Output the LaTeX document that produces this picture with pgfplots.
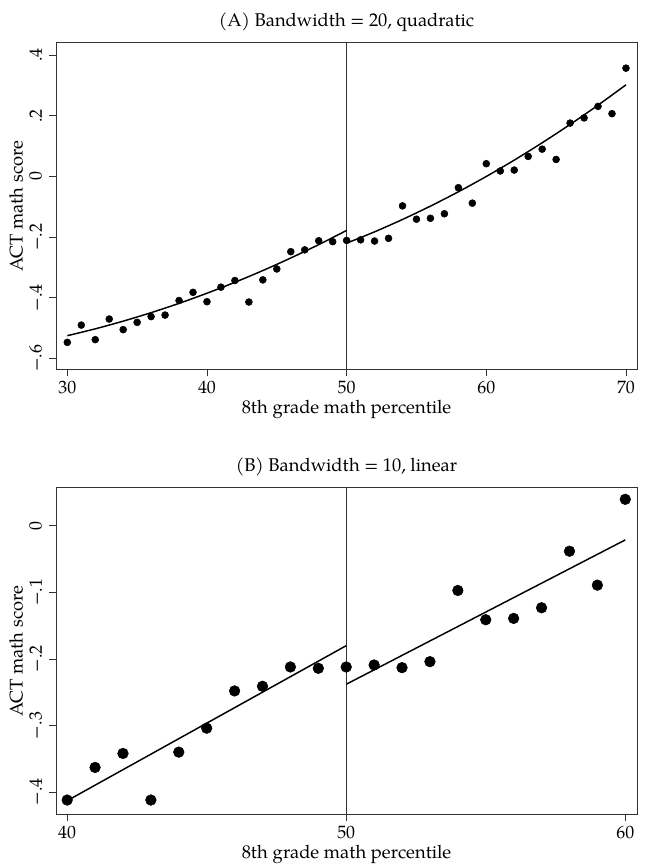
\documentclass[border=0pt]{standalone}
\usepackage{fontspec}
\setmainfont{TeX Gyre Pagella}
\usepackage{pgfplots}
\pgfplotsset{compat=1.18}
\usepackage{pgfplotstable}

\pgfplotstableread{
x y
30 -0.547
31 -0.490
32 -0.538
33 -0.470
34 -0.505
35 -0.481
36 -0.462
37 -0.457
38 -0.409
39 -0.382
40 -0.413
41 -0.365
42 -0.343
43 -0.414
44 -0.341
45 -0.305
46 -0.248
47 -0.242
48 -0.212
49 -0.215
50 -0.211
51 -0.209
52 -0.213
53 -0.204
54 -0.097
55 -0.141
56 -0.138
57 -0.123
58 -0.037
59 -0.088
60 0.042
61 0.018
62 0.021
63 0.066
64 0.090
65 0.056
66 0.176
67 0.193
68 0.231
69 0.207
70 0.357
}\dataA

\pgfplotstableread{
x y
40 -0.412
41 -0.363
42 -0.342
43 -0.412
44 -0.340
45 -0.304
46 -0.248
47 -0.241
48 -0.212
49 -0.214
50 -0.212
51 -0.209
52 -0.213
53 -0.204
54 -0.097
55 -0.141
56 -0.139
57 -0.123
58 -0.038
59 -0.089
60 0.040
}\dataB

\pgfplotsset{
  rdstyle/.style={
    scale only axis,
    width=435.75pt, height=245.25pt,
    axis line style={draw=black!80, line width=0.7pt},
    tick style={draw=black!80, line width=0.7pt},
    tick align=outside, major tick length=5pt,
    xtick pos=bottom, ytick pos=left,
    /pgf/number format/assume math mode=true,
    tick label style={font=\fontsize{13.4}{15}\selectfont},
    yticklabel style={rotate=90, anchor=south},
    yticklabel shift=2pt,
    xlabel={8th grade math percentile},
    ylabel={ACT math score},
    xlabel style={font=\fontsize{13.8}{16}\selectfont, at={(axis description cs:0.5,0)}, anchor=base, yshift=-32.5pt},
    ylabel style={font=\fontsize{13.8}{16}\selectfont, at={([xshift=-25pt]axis description cs:0,0.5)}, anchor=base},
    title style={font=\fontsize{13.8}{16}\selectfont, at={(axis description cs:0.5,1)}, anchor=base, yshift=6.2pt},
    clip=false,
  },
}

\begin{document}
\begin{tikzpicture}
\useasboundingbox (-42pt,32pt) rectangle (441.75pt,-616pt);
\begin{axis}[rdstyle,
  at={(0pt,0pt)}, anchor=north west,
  title={(A) Bandwidth = 20, quadratic},
  xmin=29.19, xmax=70.79, ymin=-0.637, ymax=0.441,
  xtick={30,40,50,60,70},
  ytick={-0.6,-0.4,-0.2,0,0.2,0.4},
  yticklabels={−.6,−.4,−.2,0,.2,.4},
]
\addplot[draw=black!80, line width=0.7pt] coordinates {(50,-0.637) (50,0.441)};
\addplot[only marks, mark=*, mark size=2.6pt, black] table[x=x,y=y] {\dataA};
\addplot[black, line width=1.1pt, smooth] coordinates {
(30,-0.525) (32,-0.5024) (34,-0.4770) (36,-0.4490) (38,-0.4184) (40,-0.385)
(42,-0.3490) (44,-0.3102) (46,-0.2688) (48,-0.2248) (50,-0.178)};
\addplot[black, line width=1.1pt, smooth] coordinates {
(50,-0.220) (52,-0.1826) (54,-0.1418) (56,-0.0978) (58,-0.0506) (60,0.0)
(62,0.0538) (64,0.1110) (66,0.1714) (68,0.2350) (70,0.302)};
\end{axis}

\begin{axis}[rdstyle,
  at={(0pt,-333.75pt)}, anchor=north west,
  title={(B) Bandwidth = 10, linear},
  xmin=39.6, xmax=60.42, ymin=-0.434, ymax=0.0575,
  xtick={40,50,60},
  ytick={-0.4,-0.3,-0.2,-0.1,0},
  yticklabels={−.4,−.3,−.2,−.1,0},
]
\addplot[draw=black!80, line width=0.7pt] coordinates {(50,-0.434) (50,0.0575)};
\addplot[only marks, mark=*, mark size=4pt, black] table[x=x,y=y] {\dataB};
\addplot[black, line width=1.1pt] coordinates {(40,-0.413) (50,-0.180)};
\addplot[black, line width=1.1pt] coordinates {(50,-0.238) (60,-0.021)};
\end{axis}
\end{tikzpicture}
\end{document}
